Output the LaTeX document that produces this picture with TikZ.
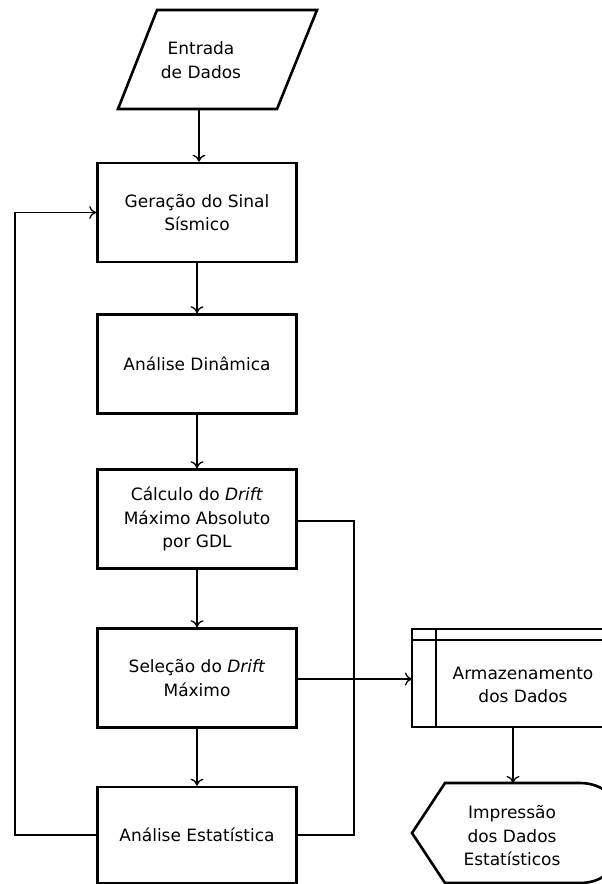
\documentclass[tikz,border=0pt]{standalone}
\usepackage{fontspec}
\setmainfont{DejaVu Sans}
\usetikzlibrary{arrows.meta}
\begin{document}
\begin{tikzpicture}[x=1pt,y=-1pt,
  box/.style={draw,line width=2.6pt,minimum width=199pt,minimum height=99pt,align=center,inner sep=0pt},
  lbl/.style={align=center},
  conn/.style={line width=1.2pt},
  arr/.style={conn,-{To[length=7pt,width=13pt,line width=1.3pt]}},
  every node/.style={font=\fontsize{17}{23.5}\selectfont}]
\useasboundingbox (0,0) rectangle (602,884);
% input parallelogram
\draw[line width=2.6pt,line join=miter] (157,10) -- (317,10) -- (277,109) -- (118,109) -- cycle;
\node[lbl] (in) at (201,60) {Entrada\\de Dados};
\coordinate (inB) at (199,109);
% process boxes
\node[box] (b1) at (197,212.5) {Geração do Sinal\\Sísmico};
\node[box] (b2) at (197,364) {Análise Dinâmica};
\node[box] (b3) at (197,519) {Cálculo do \textit{Drift}\\Máximo Absoluto\\por GDL};
\node[box] (b4) at (197,678) {Seleção do \textit{Drift}\\Máximo};
\node[box,minimum height=96pt] (b5) at (197,835) {Análise Estatística};
% storage
\draw[line width=2.6pt] (612,629) -- (412,629) -- (412,727) -- (612,727);
\draw[line width=1.6pt] (436,629) -- (436,727);
\draw[line width=1.6pt] (412,640) -- (612,640);
\coordinate (stW) at (412,679);
\coordinate (stS) at (513,727);
\node[lbl] (st) at (523,685) {Armazenamento\\dos Dados};
% display
\draw[line width=2.6pt,line join=miter] (445,783) -- (580,783) .. controls (640,783) and (640,883) .. (580,883) -- (445,883) -- (412,833) -- cycle;
\coordinate (dpN) at (513,783);
\node[lbl] (dp) at (512,836) {Impressão\\dos Dados\\Estatísticos};
% connectors
\draw[arr] (inB) -- (b1.north -| inB);
\draw[arr] (b1.south) -- (b2.north);
\draw[arr] (b2.south) -- (b3.north);
\draw[arr] (b3.south) -- (b4.north);
\draw[arr] (b4.south) -- (b5.north);
\draw[arr] (b5.west) -- (15,835) -- (15,212.5) -- (b1.west);
\coordinate (rj) at (354,521);
\draw[conn] (b3.east |- rj) -- (rj) -- (354,835) -- (b5.east);
\draw[arr] (b4.east |- stW) -- (stW);
\draw[arr] (stS) -- (dpN);
\end{tikzpicture}
\end{document}
